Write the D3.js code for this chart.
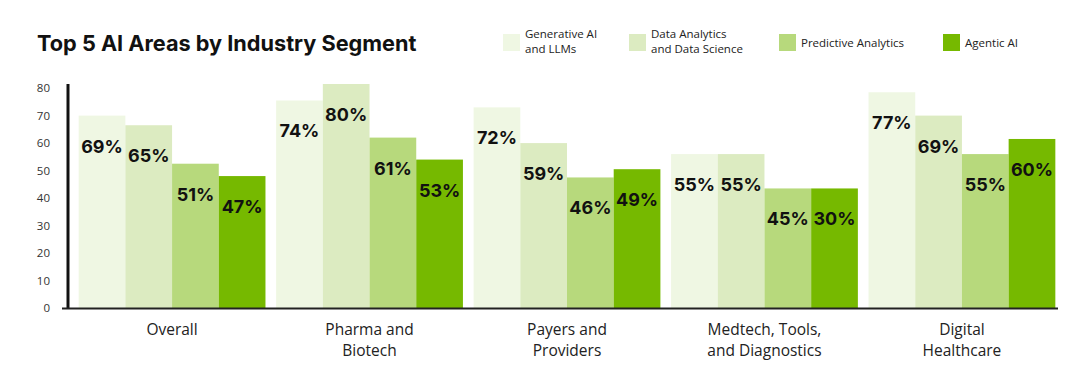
<!DOCTYPE html>
<html>
  <head>
    <meta charset="utf-8">
    <title>Top 5 AI Areas by Industry Segment</title>
    <style>
      body { margin: 0; background: #fff; }
      svg { display: block; }
    </style>
  </head>
  <body>
    <svg width="1080" height="370"></svg>

    <script src="https://d3js.org/d3.v7.min.js"></script>
    <script>

      var categories = [
        ["Overall"],
        ["Pharma and", "Biotech"],
        ["Payers and", "Providers"],
        ["Medtech, Tools,", "and Diagnostics"],
        ["Digital", "Healthcare"]
      ];

      var seriesNames = [
        ["Generative AI", "and LLMs"],
        ["Data Analytics", "and Data Science"],
        ["Predictive Analytics"],
        ["Agentic AI"]
      ];

      // bar heights as drawn in the picture (per category, per series)
      var barValues = [
        [70, 66.5, 52.5, 48],
        [75.5, 81.5, 62, 54],
        [73, 60, 47.5, 50.5],
        [56, 56, 43.5, 43.5],
        [78.5, 70, 56, 61.5]
      ];

      // printed labels
      var barLabels = [
        ["69%", "65%", "51%", "47%"],
        ["74%", "80%", "61%", "53%"],
        ["72%", "59%", "46%", "49%"],
        ["55%", "55%", "45%", "30%"],
        ["77%", "69%", "55%", "60%"]
      ];

      var yTicks = [0, 10, 20, 30, 40, 50, 60, 70, 80];

      var colors = ["#eff7e3", "#dcebc1", "#b7d97c", "#76b900"];

      var svg = d3.select("svg");

      var x0 = d3.scaleBand()
        .domain(d3.range(categories.length))
        .range([68, 1066])
        .paddingInner(0.054)
        .paddingOuter(0.054);

      var x1 = d3.scaleBand()
        .domain(d3.range(seriesNames.length))
        .range([0, x0.bandwidth()]);

      var y = d3.scaleLinear()
        .domain([0, 81.5])
        .range([308, 84]);

      // title
      svg.append("text")
        .attr("x", 37)
        .attr("y", 51)
        .attr("font-family", "Inter, sans-serif")
        .attr("font-weight", 700)
        .attr("font-size", 21.7)
        .attr("fill", "#111")
        .text("Top 5 AI Areas by Industry Segment");

      // bars
      var groups = svg.append("g")
        .selectAll("g")
        .data(barValues)
        .enter().append("g")
        .attr("transform", function (d, i) { return "translate(" + x0(i) + ",0)"; });

      groups.selectAll("rect")
        .data(function (d) { return d; })
        .enter().append("rect")
        .attr("x", function (d, j) { return x1(j); })
        .attr("y", function (d) { return y(d); })
        .attr("width", x1.bandwidth())
        .attr("height", function (d) { return y(0) - y(d); })
        .attr("fill", function (d, j) { return colors[j]; });

      groups.selectAll("text")
        .data(function (d, i) { return d.map(function (v, j) { return { v: v, label: barLabels[i][j] }; }); })
        .enter().append("text")
        .attr("x", function (d, j) { return x1(j) + x1.bandwidth() / 2; })
        .attr("y", function (d) { return y(d.v) + 37; })
        .attr("text-anchor", "middle")
        .attr("font-family", "Inter, sans-serif")
        .attr("font-weight", 700)
        .attr("font-size", 18)
        .attr("fill", "#111")
        .text(function (d) { return d.label; });

      // y axis
      var yAxis = svg.append("g")
        .attr("transform", "translate(68,0)")
        .call(d3.axisLeft(y).tickValues(yTicks).tickSize(0).tickPadding(18));
      yAxis.select(".domain").remove();
      yAxis.selectAll("text")
        .attr("font-family", "'Open Sans', sans-serif")
        .attr("font-size", 11.5)
        .attr("fill", "#333");

      svg.append("line")
        .attr("x1", 68).attr("x2", 68)
        .attr("y1", 84).attr("y2", y(0) + 1)
        .attr("stroke", "#111")
        .attr("stroke-width", 3);

      // x axis
      svg.append("line")
        .attr("x1", 62).attr("x2", 1058)
        .attr("y1", y(0) + 0.5).attr("y2", y(0) + 0.5)
        .attr("stroke", "#222")
        .attr("stroke-width", 2);

      var catText = svg.append("g")
        .selectAll("text")
        .data(categories)
        .enter().append("text")
        .attr("x", function (d, i) { return x0(i) + x0.bandwidth() / 2; })
        .attr("y", 335)
        .attr("text-anchor", "middle")
        .attr("font-family", "'Open Sans', sans-serif")
        .attr("font-size", 15.5)
        .attr("fill", "#222");
      catText.selectAll("tspan")
        .data(function (d) { return d; })
        .enter().append("tspan")
        .attr("x", function () { return d3.select(this.parentNode).attr("x"); })
        .attr("dy", function (d, k) { return k === 0 ? 0 : 21; })
        .text(function (d) { return d; });

      // legend
      var legendX = [503, 629, 779, 943];
      var legend = svg.append("g")
        .selectAll("g")
        .data(seriesNames)
        .enter().append("g")
        .attr("transform", function (d, i) { return "translate(" + legendX[i] + ",34)"; });

      legend.append("rect")
        .attr("width", 17)
        .attr("height", 17)
        .attr("fill", function (d, i) { return colors[i]; });

      // each legend line is its own text element
      legend.each(function (d) {
        var g = d3.select(this);
        d.forEach(function (line, k) {
          g.append("text")
            .attr("x", 22)
            .attr("y", d.length > 1 ? 4 + k * 15 : 13)
            .attr("font-family", "'Open Sans', sans-serif")
            .attr("font-size", 11.5)
            .attr("fill", "#222")
            .text(line);
        });
      });

    </script>
  </body>
</html>
